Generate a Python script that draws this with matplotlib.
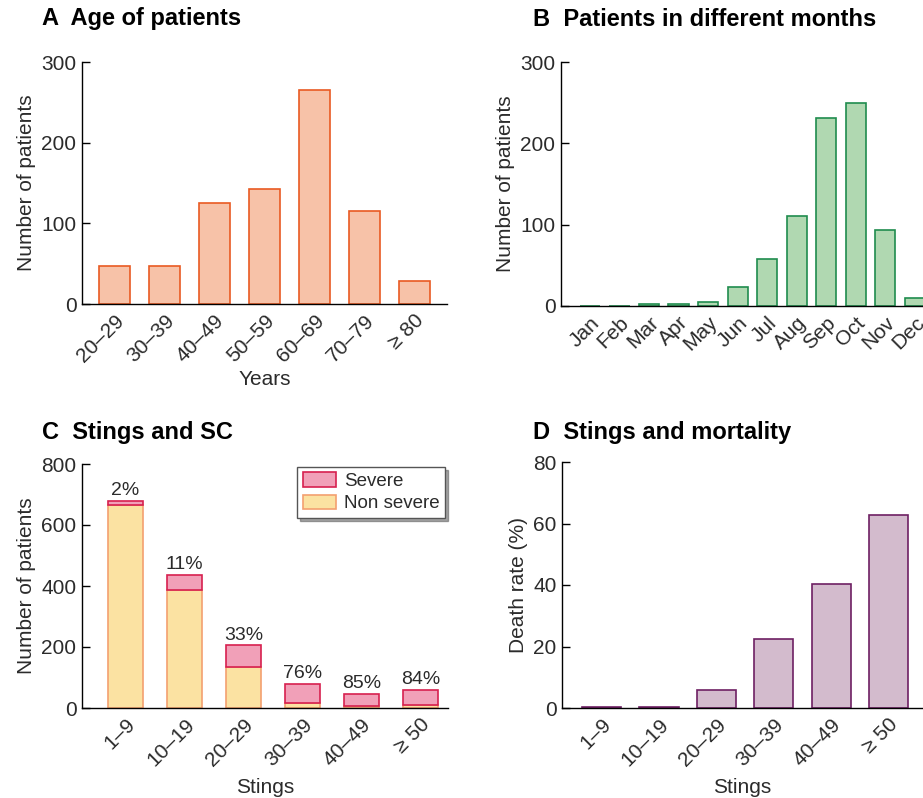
import matplotlib
matplotlib.use("Agg")
import matplotlib.pyplot as plt
import numpy as np

plt.rcParams['font.family'] = ['Liberation Sans', 'DejaVu Sans']

# data
ageGroups = ["20\u201329", "30\u201339", "40\u201349", "50\u201359", "60\u201369", "70\u201379", "\u2265 80"]
agePatients = [47, 47, 125, 143, 265, 115, 28]

months = ["Jan", "Feb", "Mar", "Apr", "May", "Jun", "Jul", "Aug", "Sep", "Oct", "Nov", "Dec"]
monthPatients = [0, 0, 2, 2, 5, 23, 58, 111, 231, 249, 93, 10]

stingGroups = ["1\u20139", "10\u201319", "20\u201329", "30\u201339", "40\u201349", "\u2265 50"]
nonSevere = [664, 386, 136, 17, 6, 10]
severe = [16, 50, 69, 62, 40, 50]
severePct = ["2%", "11%", "33%", "76%", "85%", "84%"]

deathRate = [0.4, 0.4, 5.8, 22.3, 40.3, 62.8]

W, H = 923, 798
fig = plt.figure(figsize=(W / 100, H / 100), dpi=100)

labelColor = "#2b2b2b"
fs = 15

def axBox(left, right, top, bottom):
    return fig.add_axes([left / W, 1 - bottom / H, (right - left) / W, (bottom - top) / H])

def styleAxis(ax):
    for s in ["top", "right"]:
        ax.spines[s].set_visible(False)
    ax.spines["left"].set_linewidth(1.0)
    ax.spines["bottom"].set_linewidth(1.0)
    ax.tick_params(axis="y", direction="in", length=6, width=1.0, labelsize=fs,
                   labelcolor=labelColor, pad=4)
    ax.tick_params(axis="x", length=0, labelsize=fs, labelcolor=labelColor, pad=5)
    for lab in ax.get_xticklabels():
        lab.set_rotation(45)
        lab.set_ha("right")
        lab.set_rotation_mode("anchor")

# A
axA = axBox(82, 447, 62, 304)
x = np.arange(len(ageGroups))
axA.bar(x, agePatients, width=0.62, color="#f7c2a8", edgecolor="#e95a22", linewidth=1.2)
axA.set_xlim(-0.65, 6.65)
axA.set_ylim(0, 300)
axA.set_yticks([0, 100, 200, 300])
axA.set_xticks(x)
axA.set_xticklabels(ageGroups)
axA.set_ylabel("Number of patients", fontsize=fs, color=labelColor, labelpad=4)
axA.set_xlabel("Years", fontsize=fs, color=labelColor, labelpad=3)
styleAxis(axA)

# B
axB = axBox(561, 934, 62, 306)
x = np.arange(len(months))
axB.bar(x, monthPatients, width=0.68, color="#b0d8b1", edgecolor="#1f8c4e", linewidth=1.2)
axB.set_xlim(-0.98, 11.65)
axB.set_ylim(0, 300)
axB.set_yticks([0, 100, 200, 300])
axB.set_xticks(x)
axB.set_xticklabels(months)
axB.set_ylabel("Number of patients", fontsize=fs, color=labelColor, labelpad=4)
styleAxis(axB)

# C
axC = axBox(82, 448, 464, 708)
x = np.arange(len(stingGroups))
axC.bar(x, nonSevere, width=0.59, color="#fbe2a2", edgecolor="#f3a070", linewidth=1.2,
        label="Non severe")
axC.bar(x, severe, bottom=nonSevere, width=0.59, color="#f1a0b8", edgecolor="#d7204f",
        linewidth=1.2, label="Severe")
for i in range(len(stingGroups)):
    axC.text(x[i], nonSevere[i] + severe[i] + 6, severePct[i], ha="center", va="bottom",
             fontsize=14, color=labelColor)
axC.set_xlim(-0.74, 5.47)
axC.set_ylim(0, 800)
axC.set_yticks([0, 200, 400, 600, 800])
axC.set_xticks(x)
axC.set_xticklabels(stingGroups)
axC.set_ylabel("Number of patients", fontsize=fs, color=labelColor, labelpad=4)
axC.set_xlabel("Stings", fontsize=fs, color=labelColor, labelpad=6)
styleAxis(axC)
handles, labels = axC.get_legend_handles_labels()
leg = axC.legend(handles[::-1], labels[::-1], loc="upper right", bbox_to_anchor=(1.0, 1.0),
                 fontsize=13.5, frameon=True, fancybox=False, shadow=True,
                 handlelength=1.8, handleheight=0.8, handletextpad=0.4,
                 borderpad=0.3, labelspacing=0.25, borderaxespad=0.15)
leg.get_frame().set_edgecolor("#555555")
leg.get_frame().set_linewidth(1.0)
for t in leg.get_texts():
    t.set_color(labelColor)

# D
axD = axBox(562, 923, 462, 708)
x = np.arange(len(stingGroups))
axD.bar(x, deathRate, width=0.68, color="#d3bbcd", edgecolor="#6e2063", linewidth=1.2)
axD.set_xlim(-0.69, 5.6)
axD.set_ylim(0, 80)
axD.set_yticks([0, 20, 40, 60, 80])
axD.set_xticks(x)
axD.set_xticklabels(stingGroups)
axD.set_ylabel("Death rate (%)", fontsize=fs, color=labelColor, labelpad=4)
axD.set_xlabel("Stings", fontsize=fs, color=labelColor, labelpad=6)
styleAxis(axD)

# panel titles
titleKw = dict(fontsize=17, fontweight="bold", va="center", ha="left")
fig.text(42 / W, 1 - 19 / H, "A  Age of patients", **titleKw)
fig.text(533 / W, 1 - 19 / H, "B  Patients in different months", **titleKw)
fig.text(42 / W, 1 - 432 / H, "C  Stings and SC", **titleKw)
fig.text(533 / W, 1 - 432 / H, "D  Stings and mortality", **titleKw)

fig.savefig("out.png", dpi=100)
